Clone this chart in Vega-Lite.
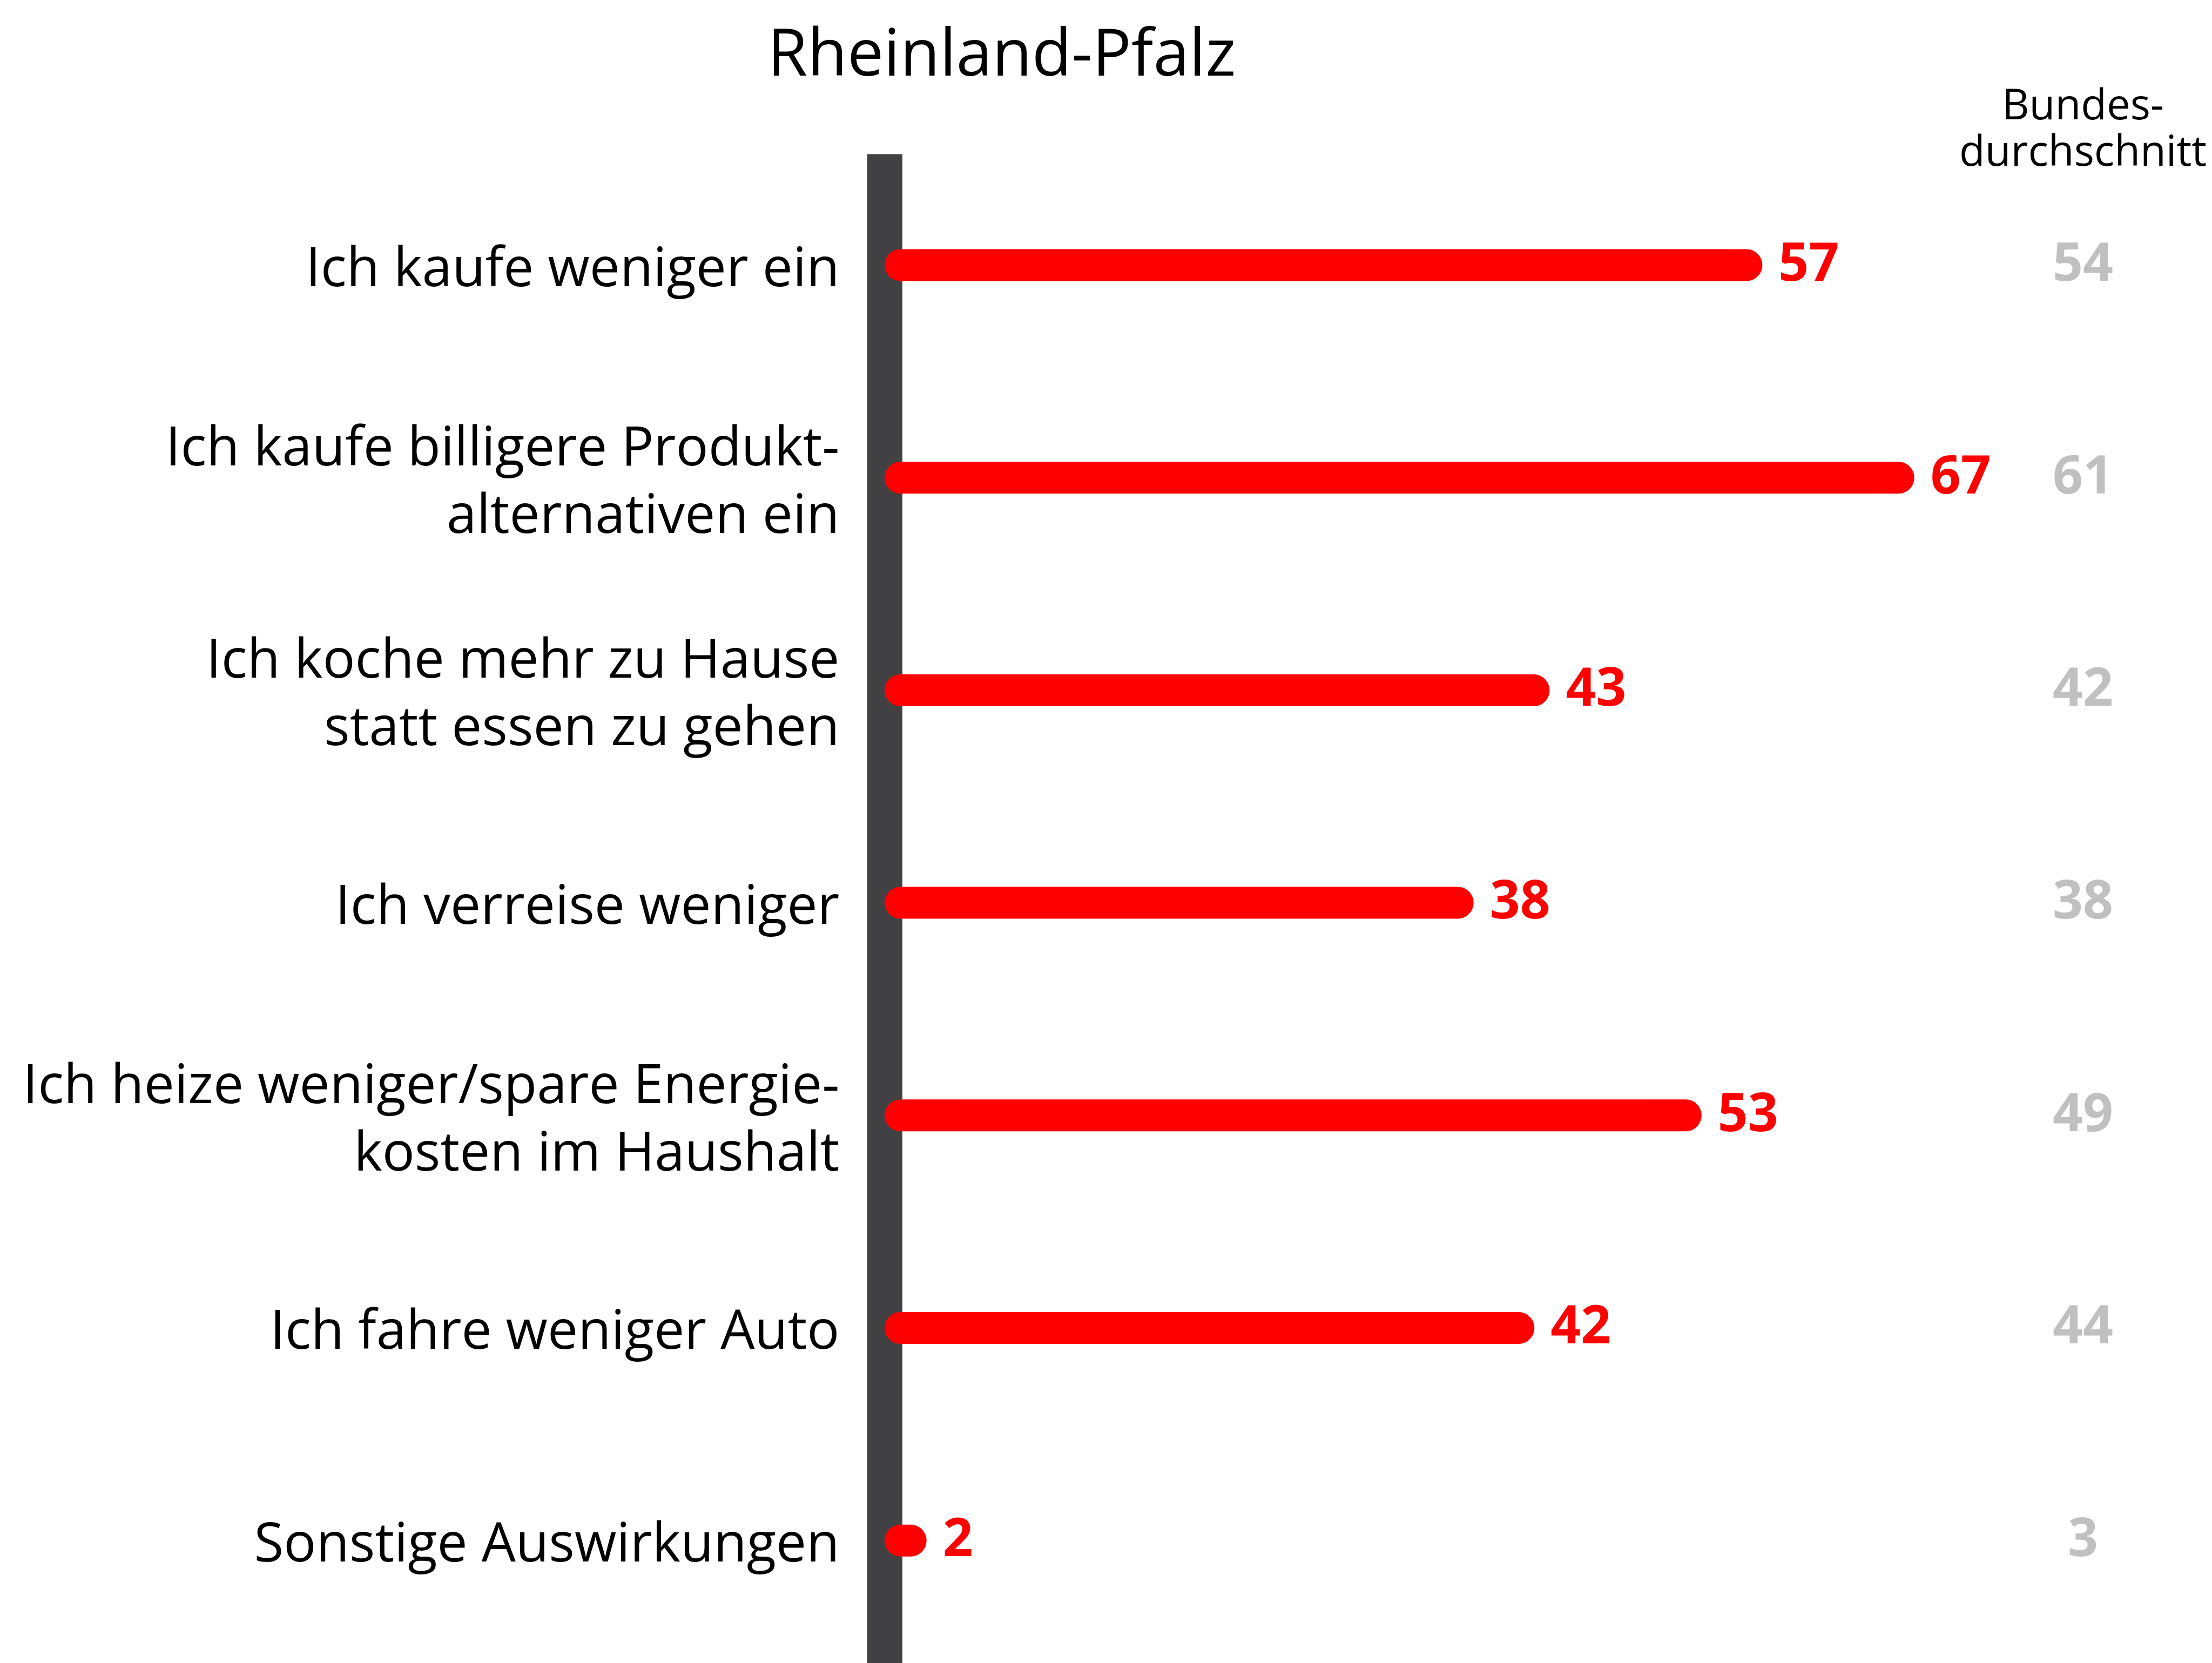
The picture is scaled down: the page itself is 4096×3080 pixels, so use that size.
{
  "$schema": "https://vega.github.io/schema/vega-lite/v6.json",
  "autosize": {"type": "none"},
  "padding": {"left": 1638, "top": 285, "right": 0, "bottom": 0},
  "width": 2458,
  "height": 2795,
  "background": "white",
  "config": {"view": {"stroke": null}, "font": "Open Sans"},
  "data": {"values": [
    {"label": "Ich kaufe weniger ein", "value": 57, "bund": 54},
    {"label": "Ich kaufe billigere Produkt-\nalternativen ein", "value": 67, "bund": 61},
    {"label": "Ich koche mehr zu Hause\nstatt essen zu gehen", "value": 43, "bund": 42},
    {"label": "Ich verreise weniger", "value": 38, "bund": 38},
    {"label": "Ich heize weniger/spare Energie-\nkosten im Haushalt", "value": 53, "bund": 49},
    {"label": "Ich fahre weniger Auto", "value": 42, "bund": 44},
    {"label": "Sonstige Auswirkungen", "value": 2, "bund": 3}
  ]},
  "encoding": {
    "y": {
      "field": "label", "type": "nominal", "sort": null,
      "scale": {
        "domain": ["Ich kaufe weniger ein", "Ich kaufe billigere Produkt-\nalternativen ein", "Ich koche mehr zu Hause\nstatt essen zu gehen", "Ich verreise weniger", "Ich heize weniger/spare Energie-\nkosten im Haushalt", "Ich fahre weniger Auto", "Sonstige Auswirkungen"],
        "paddingInner": 0, "paddingOuter": 0.0497, "align": 0.234
      },
      "axis": {
        "title": null, "ticks": false, "tickSize": 0,
        "domain": true, "domainColor": "#414143", "domainWidth": 65, "domainCap": "butt",
        "labelExpr": "split(datum.label, '\\n')",
        "labelFont": "Open Sans", "labelFontSize": 100, "labelColor": "#000000",
        "labelAlign": "right", "labelBaseline": "middle", "labelLineHeight": 125,
        "labelOffset": {"condition": {"test": "indexof(datum.value, '\\n') >= 0", "value": -53}, "value": 9},
        "labelPadding": 84, "labelLimit": 0, "grid": false
      }
    }
  },
  "layer": [
    {
      "mark": {"type": "bar", "color": "#ff0000", "size": 59, "cornerRadiusEnd": 29.5},
      "encoding": {
        "x": {"field": "value", "type": "quantitative", "axis": null,
              "scale": {"domain": [-0.76, 86.59], "nice": false, "zero": false}},
        "x2": {"datum": -0.76}
      }
    },
    {
      "mark": {"type": "text", "align": "left", "baseline": "middle", "dx": 30,
               "font": "Open Sans", "fontWeight": "bold", "fontSize": 98, "color": "#ff0000"},
      "encoding": {
        "x": {"field": "value", "type": "quantitative"},
        "text": {"field": "value", "type": "quantitative"}
      }
    },
    {
      "mark": {"type": "text", "align": "center", "baseline": "middle",
               "font": "Open Sans", "fontWeight": "bold", "fontSize": 98, "color": "#bfc0bf"},
      "encoding": {
        "x": {"datum": 78.1},
        "text": {"field": "bund", "type": "quantitative"}
      }
    },
    {
      "data": {"values": [{"h": "Bundes-\ndurchschnitt"}]},
      "mark": {"type": "text", "align": "center", "baseline": "alphabetic", "lineBreak": "\n",
               "lineHeight": 86, "dy": -270, "font": "Open Sans", "fontSize": 78, "color": "#000000"},
      "encoding": {
        "x": {"datum": 78.1},
        "y": {"datum": "Ich kaufe weniger ein"},
        "text": {"field": "h", "type": "nominal"}
      }
    },
    {
      "data": {"values": [{"t": "Rheinland-Pfalz"}]},
      "mark": {"type": "text", "align": "center", "baseline": "alphabetic",
               "dy": -351, "font": "Open Sans", "fontSize": 120, "color": "#000000"},
      "encoding": {
        "x": {"datum": 6.95},
        "y": {"datum": "Ich kaufe weniger ein"},
        "text": {"field": "t", "type": "nominal"}
      }
    }
  ]
}
